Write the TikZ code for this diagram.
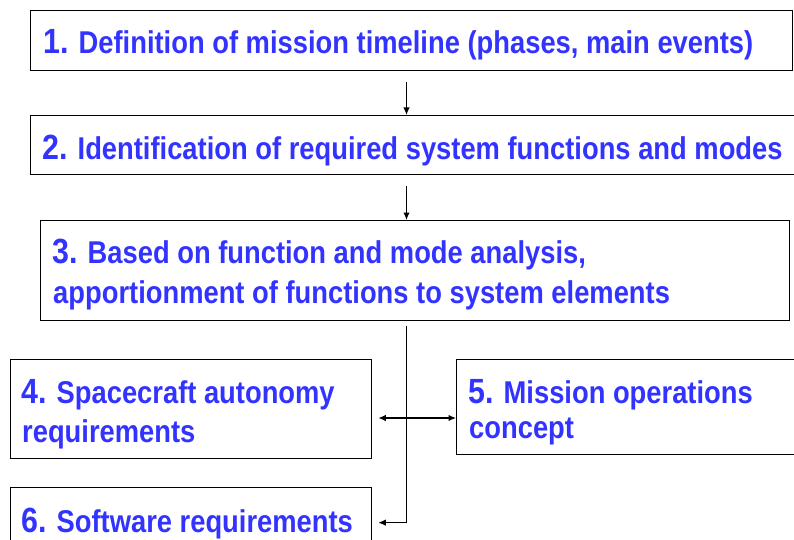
\documentclass[tikz,border=0pt]{standalone}
\usepackage{fontspec}
\usetikzlibrary{arrows.meta}
\newfontfamily\lab{Liberation Sans}[FakeStretch=0.868]
\definecolor{ink}{RGB}{51,51,255}
\newcommand\stepnum[1]{{\fontsize{35}{40}\selectfont #1}}
\begin{document}
\begin{tikzpicture}[x=1pt, y=-1pt,
  box/.style={draw=black, line width=1.3pt, fill=none, anchor=north west, inner sep=0pt},
  txt/.style={anchor=base west, inner sep=0pt, text=ink,
    font=\lab\bfseries\fontsize{31.5}{38}\selectfont},
  arr/.style={line width=1.3pt, -{Latex[length=7.5pt,width=6.5pt]}},
  link/.style={line width=1.3pt}]
\useasboundingbox (0,0) rectangle (794,540);
\clip (0,0) rectangle (794,540);

% boxes
\node[box, minimum width=762pt, minimum height=60pt]  (b1) at (30,10)  {};
\node[box, minimum width=790pt, minimum height=59pt]  (b2) at (30,115) {};
\node[box, minimum width=749pt, minimum height=100pt] (b3) at (40,220) {};
\node[box, minimum width=361pt, minimum height=99pt]  (b4) at (10,359) {};
\node[box, minimum width=360pt, minimum height=95pt]  (b5) at (456,359) {};
\node[box, minimum width=361pt, minimum height=70pt]  (b6) at (10,487) {};

% texts
\node[txt] (t1)  at (43,53.3)  {\stepnum{1.} Definition of mission timeline (phases, main events)};
\node[txt] (t2)  at (42,159.3) {\stepnum{2.} Identification of required system functions and modes};
\node[txt] (t3a) at (52,263)   {\stepnum{3.} Based on function and mode analysis,};
\node[txt] (t3b) at (53,303.5) {apportionment of functions to system elements};
\node[txt] (t4a) at (21,403)   {\stepnum{4.} Spacecraft autonomy};
\node[txt] (t4b) at (22,442)   {requirements};
\node[txt] (t5a) at (468,403)  {\stepnum{5.} Mission operations};
\node[txt] (t5b) at (469,438)  {concept};
\node[txt] (t6)  at (21,532)   {\stepnum{6.} Software requirements};

% connector guides
\coordinate (ax) at (406.5,0);
\coordinate (hy) at (0,418);

% connectors
\draw[arr, shorten <=11pt] (b1.south -| ax) -- (b2.north -| ax);
\draw[arr, shorten <=11pt] (b2.south -| ax) -- (b3.north -| ax);
\draw[link, shorten <=5pt] (b3.south -| ax) -- (b6.east -| ax);
\draw[arr, shorten >=6pt] (b6.east -| ax) -- (b6.east);
\draw[arr, {Latex[length=7.5pt,width=6.5pt]}-{Latex[length=7.5pt,width=6.5pt]}, shorten <=6pt]
  (b4.east |- hy) -- (b5.west |- hy);
\end{tikzpicture}
\end{document}
